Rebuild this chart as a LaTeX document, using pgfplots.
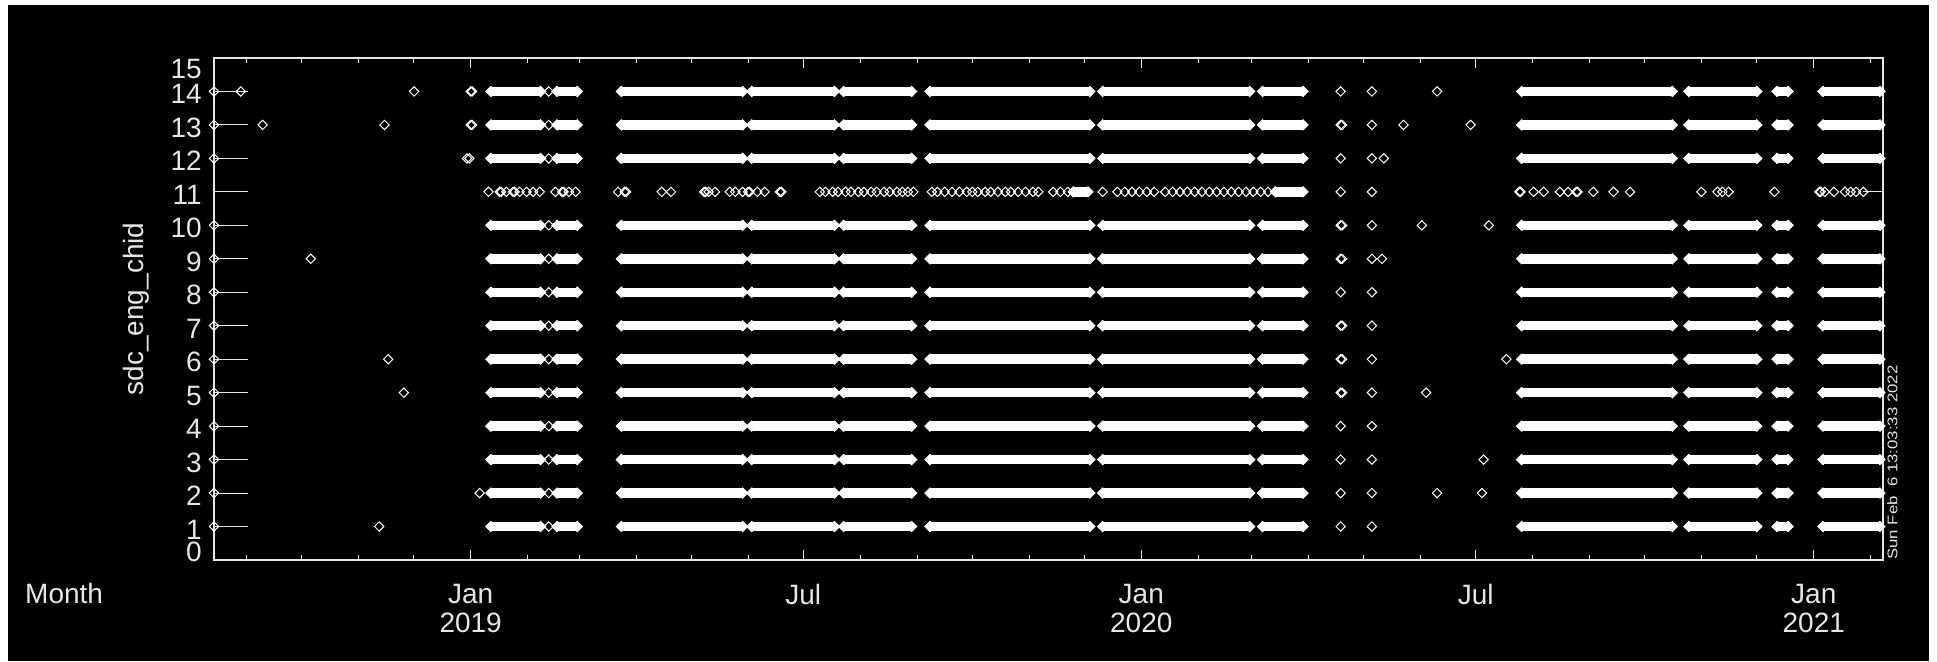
\documentclass[border=0pt]{standalone}
\usepackage{fontspec}
\setmainfont{Liberation Sans}
\usepackage{pgfplots}
\pgfplotsset{compat=1.18}
\usepackage{pgfplotstable}

\definecolor{fg}{HTML}{E6E6E6}

% days since 2019-01-01; runs of dense telemetry (start/end), nan breaks the run
\pgfplotstableread{
d
11
38
nan
47
58
nan
82
148
nan
153
198
nan
203
240
nan
250
337
nan
344
424
nan
431
453
nan
572
654
nan
663
700
nan
711
717
nan
736
767
}\runs

% short runs on channel 11
\pgfplotstableread{
d ch
328 11
336 11
nan nan
438 11
453 11
}\runsB

% single samples
\pgfplotstableread{
d ch
-139.7 14
-125.1 14
-30.8 14
0 14
0.8 14
42.5 14
473.5 14
490.5 14
526 14
-139.7 13
-113.2 13
-46.9 13
0 13
0.8 13
42.5 13
473.5 13
474.3 13
490.5 13
507.7 13
544.2 13
-139.7 12
-2 12
-0.7 12
42.5 12
473.5 12
490.5 12
497 12
-139.7 10
42.5 10
473.5 10
474.3 10
490.5 10
517.7 10
554.2 10
-139.7 9
-87 9
42.5 9
473.5 9
474.3 9
490.5 9
496 9
-139.7 8
42.5 8
473.5 8
490.5 8
-139.7 7
42.5 7
473.5 7
474.3 7
490.5 7
-139.7 6
-44.9 6
42.5 6
473.5 6
474.3 6
490.5 6
563.7 6
-139.7 5
-36.4 5
42.5 5
473.5 5
474.3 5
490.5 5
520 5
-139.7 4
42.5 4
473.5 4
490.5 4
-139.7 3
42.5 3
473.5 3
490.5 3
551.3 3
-139.7 2
4.9 2
42.5 2
473.5 2
490.5 2
526 2
550.4 2
-139.7 1
-49.8 1
42.5 1
473.5 1
490.5 1
}\singles

% channel 11 samples
\pgfplotstableread{
d ch
9.7 11
15.8 11
16.6 11
19.4 11
23.1 11
23.9 11
26.7 11
30.4 11
34 11
37.6 11
46.1 11
49.8 11
50.6 11
53.4 11
57.1 11
80.2 11
83.8 11
84.6 11
104 11
109 11
127.1 11
127.9 11
129.5 11
133 11
141 11
144 11
148 11
151 11
151.8 11
156 11
160 11
168.3 11
169.1 11
190 11
193 11
197 11
200 11
204 11
207 11
211 11
214 11
218 11
221 11
225 11
228 11
232 11
235 11
238 11
241 11
251 11
254 11
258 11
262 11
266 11
270 11
273 11
276 11
280 11
283 11
287 11
291 11
294 11
298 11
302 11
306 11
309 11
317 11
321 11
325 11
344 11
352 11
356 11
360 11
364 11
368 11
372 11
378 11
382 11
386 11
390 11
394 11
398 11
402 11
406 11
410 11
414 11
418 11
422 11
426 11
430 11
434 11
473.5 11
490.5 11
570.7 11
571.5 11
578.5 11
584 11
592.8 11
597.3 11
601.7 11
602.5 11
611 11
622 11
631 11
669.8 11
678.6 11
681.3 11
684.6 11
709.6 11
734 11
734.8 11
737 11
742 11
748 11
751 11
754 11
758 11
}\chelf

\begin{document}
\begin{tikzpicture}
\useasboundingbox (0pt,0pt) rectangle (1937pt,661pt);
\fill[black] (8pt,0pt) rectangle (1929pt,656pt);
\begin{axis}[
  at={(214pt,101pt)}, anchor=south west,
  scale only axis, width=1669pt, height=502pt,
  xmin=-139.7, xmax=768.7, ymin=0, ymax=15,
  axis line style={fg, line width=1.2pt},
  tick style={fg, line width=1pt},
  tick align=inside,
  xtick={0,181,365,547,731},
  xticklabels={{Jan\\2019},Jul,{Jan\\2020},Jul,{Jan\\2021}},
  minor xtick={-122,-92,-61,-31,31,59,90,120,151,212,243,273,304,334,396,425,456,486,517,578,609,639,670,700,762},
  xtick pos=both, xticklabel pos=lower,
  xtick style={/pgfplots/major tick length=10pt, /pgfplots/minor tick length=5pt},
  ytick={0,...,15},
  yticklabels={\raisebox{10.5pt}{0},1,2,3,4,5,6,7,8,9,10,11,12,13,14,\raisebox{-8.5pt}{15}},
  ytick pos=left, yticklabel pos=left,
  ytick style={/pgfplots/major tick length=34pt},
  ticklabel style={font=\fontsize{28}{29}\selectfont, text=fg},
  yticklabel style={anchor=base east, inner sep=0pt, xshift=-12pt, yshift=-12.5pt},
  xticklabel style={align=center, anchor=north, inner sep=0pt, yshift=-24pt},
  xlabel={Month},
  xlabel style={at={(axis description cs:-0.11324,-0.08765)}, anchor=base west,
    inner sep=0pt, font=\fontsize{28}{29}\selectfont, text=fg},
  ylabel={sdc\_eng\_chid},
  ylabel style={at={(axis description cs:-0.04673,0.5)}, anchor=center,
    inner sep=0pt, font=\fontsize{28}{29}\selectfont, text=fg},
  unbounded coords=jump,
  run/.style={white, line width=9.5pt, mark=square*, mark size=3.7pt,
    mark options={rotate=45, line width=0.8pt, fill=white}},
  dot/.style={only marks, white, mark=square, mark size=3.3pt,
    mark options={rotate=45, line width=1pt}},
]
\pgfplotsinvokeforeach{1,2,3,4,5,6,7,8,9,10,12,13,14}{
  \addplot[run] table[x=d, y index=0, y expr=#1] {\runs};
}
\addplot[run] table[x=d, y=ch] {\runsB};
\addplot[dot] table[x=d, y=ch] {\singles};
\addplot[dot] table[x=d, y=ch] {\chelf};
\addplot[fg, line width=1pt] coordinates {(758,11) (800,11)};
\end{axis}
\node[rotate=90, anchor=north west, inner sep=0pt, text=fg,
  font=\fontsize{14}{14}\selectfont] at (1887pt,101pt)
  {\scalebox{1.2}[1]{Sun Feb\ \ 6 13:03:33 2022}};
\end{tikzpicture}
\end{document}
